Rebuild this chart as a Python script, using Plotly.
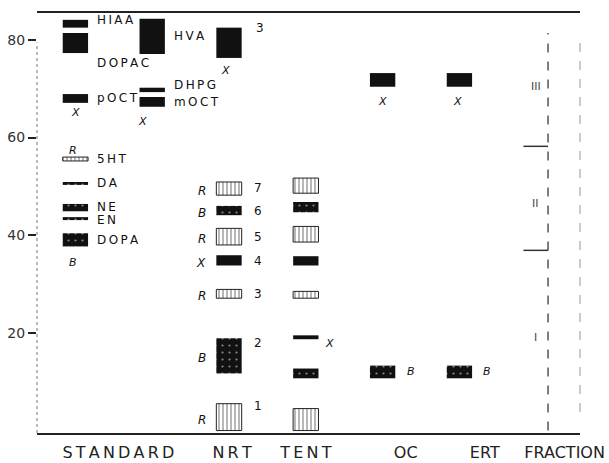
import plotly.graph_objects as go

# ---------------- data ----------------
# column index: 0,1,2 = standard columns (2 is shared with NRT), 3 = TENT, 4 = OC, 5 = ERT
std_names = ["HIAA", "DOPAC", "pOCT", "5HT", "DA", "NE", "EN", "DOPA", "HVA", "DHPG", "mOCT", "3"]
std_col = [0, 0, 0, 0, 0, 0, 0, 0, 1, 1, 1, 2]
std_low = [82.5, 77.3, 67.1, 55.2, 50.3, 44.9, 43.1, 37.7, 77.1, 69.3, 66.3, 76.3]
std_high = [84.1, 81.4, 68.9, 56.0, 50.9, 46.4, 43.7, 40.4, 84.3, 70.2, 68.3, 82.5]
std_style = ["X", "X", "X", "R", "B", "B", "B", "B", "X", "X", "X", "X"]
std_label_y = [84.0, 75.3, 68.0, 55.6, 50.6, 45.8, 43.2, 39.0, 80.8, 70.8, 67.2, 82.5]
std_label_dx = [7, 7, 7, 7, 7, 7, 7, 7, 7, 7, 7, 12]

nrt_numbers = ["1", "2", "3", "4", "5", "6", "7"]
nrt_low = [0.0, 11.7, 27.1, 33.8, 38.0, 44.1, 48.2]
nrt_high = [5.5, 18.9, 28.9, 35.9, 41.4, 46.0, 50.9]
nrt_style = ["R", "B", "R", "X", "R", "B", "R"]
nrt_code = ["R", "B", "R", "X", "R", "B", "R"]
nrt_label_y = [5.0, 18.0, 28.0, 34.8, 39.7, 45.0, 49.6]

tent_low = [0.0, 10.7, 18.7, 27.1, 33.8, 38.6, 44.7, 48.6]
tent_high = [4.5, 12.7, 19.5, 28.5, 35.7, 41.8, 46.8, 51.7]
tent_style = ["R", "B", "X", "R", "X", "R", "B", "R"]

oc_low = [10.7, 70.4]
oc_high = [13.3, 73.2]
oc_style = ["B", "X"]
ert_low = [10.7, 70.4]
ert_high = [13.3, 73.2]
ert_style = ["B", "X"]

# italic stain codes: text, column, y, pixel shift
code_text = ["X", "R", "B", "X", "X", "X", "X", "X", "B", "B"]
code_col = [0, 0, 0, 1, 2, 3, 4, 5, 4, 5]
code_y = [65.2, 57.4, 34.5, 63.2, 73.8, 17.8, 67.3, 67.3, 12.1, 12.1]
code_dx = [0, -2, -2, -10, -4, 24, 0, -2, 28, 28]

fraction_x = 6.154
fraction_top = 81.4
fraction_bounds = [58.2, 36.9]
fraction_names = ["III", "II", "I"]
fraction_label_y = [70.5, 46.4, 19.1]

TS = "\u2009"
cat_labels = [TS.join("STANDARD"), TS.join("NRT"), TS.join("TENT"), "OC", "ERT", "FRACTION"]
cat_pos = [0.56, 2.04, 3.0, 4.3, 5.33, 6.37]

BAR_W = 0.33

# ---------------- build ----------------
all_x, all_low, all_high, all_style = [], [], [], []
for c, lo, hi, st in zip(std_col, std_low, std_high, std_style):
    all_x.append(c); all_low.append(lo); all_high.append(hi); all_style.append(st)
for lo, hi, st in zip(nrt_low, nrt_high, nrt_style):
    all_x.append(2); all_low.append(lo); all_high.append(hi); all_style.append(st)
for lo, hi, st in zip(tent_low, tent_high, tent_style):
    all_x.append(3); all_low.append(lo); all_high.append(hi); all_style.append(st)
for lo, hi, st in zip(oc_low, oc_high, oc_style):
    all_x.append(4); all_low.append(lo); all_high.append(hi); all_style.append(st)
for lo, hi, st in zip(ert_low, ert_high, ert_style):
    all_x.append(5); all_low.append(lo); all_high.append(hi); all_style.append(st)

style_marker = {
    "X": dict(color="#111111", line=dict(width=0)),
    "R": dict(color="#111111", line=dict(color="#222222", width=1),
              pattern=dict(shape="|", fgcolor="#333333", bgcolor="white", size=4, solidity=0.35)),
    "B": dict(color="#111111", line=dict(width=0),
              pattern=dict(shape=".", fgcolor="white", bgcolor="#111111", size=7, solidity=0.08)),
}

fig = go.Figure()
for st in ["R", "B", "X"]:
    xs = [x for x, s in zip(all_x, all_style) if s == st]
    lows = [l for l, s in zip(all_low, all_style) if s == st]
    hs = [h - l for h, l, s in zip(all_high, all_low, all_style) if s == st]
    fig.add_trace(go.Bar(x=xs, y=hs, base=lows, width=BAR_W, marker=style_marker[st],
                         showlegend=False, hoverinfo="skip"))

# fraction column
fig.add_trace(go.Scatter(x=[fraction_x, fraction_x], y=[0, fraction_top], mode="lines",
                         line=dict(color="#555555", width=1.5, dash="dash"),
                         showlegend=False, hoverinfo="skip"))
for b in fraction_bounds:
    fig.add_trace(go.Scatter(x=[fraction_x - 0.32, fraction_x], y=[b, b], mode="lines",
                             line=dict(color="#333333", width=1.5),
                             showlegend=False, hoverinfo="skip"))

ann = []
label_font = dict(family="DejaVu Sans", size=12, color="#111111")
for name, c, y, dx in zip(std_names, std_col, std_label_y, std_label_dx):
    ann.append(dict(x=c + BAR_W / 2, y=y, text=TS.join(name) if len(name) > 1 else name,
                    showarrow=False, xanchor="left", yanchor="middle", xshift=dx, font=label_font))
for n, y in zip(nrt_numbers, nrt_label_y):
    ann.append(dict(x=2 + BAR_W / 2, y=y, text=n, showarrow=False, xanchor="left",
                    yanchor="middle", xshift=10, font=label_font))
for t, lo, hi in zip(nrt_code, nrt_low, nrt_high):
    ann.append(dict(x=2 - BAR_W / 2, y=(lo + hi) / 2 - 0.5, text="<i>%s</i>" % t, showarrow=False,
                    xanchor="right", yanchor="middle", xshift=-8, font=label_font))
for t, c, y, dx in zip(code_text, code_col, code_y, code_dx):
    ann.append(dict(x=c, y=y, text="<i>%s</i>" % t, showarrow=False, xanchor="center",
                    yanchor="middle", xshift=dx, font=dict(family="DejaVu Sans", size=11, color="#111111")))
for t, y in zip(fraction_names, fraction_label_y):
    ann.append(dict(x=fraction_x - 0.16, y=y, text=t, showarrow=False, xanchor="center",
                    yanchor="middle", font=dict(family="DejaVu Sans", size=11, color="#444444")))

fig.update_layout(
    width=609, height=463,
    margin=dict(l=37, r=29, t=13, b=30, autoexpand=False),
    paper_bgcolor="white", plot_bgcolor="white",
    barmode="overlay",
    annotations=ann,
    xaxis=dict(range=[-0.5, 6.57], showgrid=False, zeroline=False, automargin=False,
               tickvals=cat_pos, ticktext=cat_labels, ticks="", ticklabelstandoff=4,
               tickfont=dict(family="DejaVu Sans", size=16, color="#222222"),
               showline=True, linecolor="#222222", linewidth=1.5, mirror=True),
    yaxis=dict(range=[-0.5, 85.5], showgrid=False, zeroline=False, automargin=False,
               tickvals=[20, 40, 60, 80], ticks="outside", ticklen=8, tickwidth=2,
               tickcolor="#222222", showline=False,
               tickfont=dict(family="DejaVu Sans", size=14, color="#333333")),
    shapes=[
        dict(type="line", xref="paper", yref="paper", x0=0, x1=0, y0=0, y1=0.93,
             line=dict(color="#777777", width=1, dash="dot")),
        dict(type="line", xref="paper", yref="paper", x0=1, x1=1, y0=0.05, y1=0.95,
             line=dict(color="#999999", width=1, dash="dash")),
    ],
)
fig.write_html("out.html", config={"displayModeBar": False},
               post_script="document.body.style.margin='0';document.body.style.overflow='hidden';")
